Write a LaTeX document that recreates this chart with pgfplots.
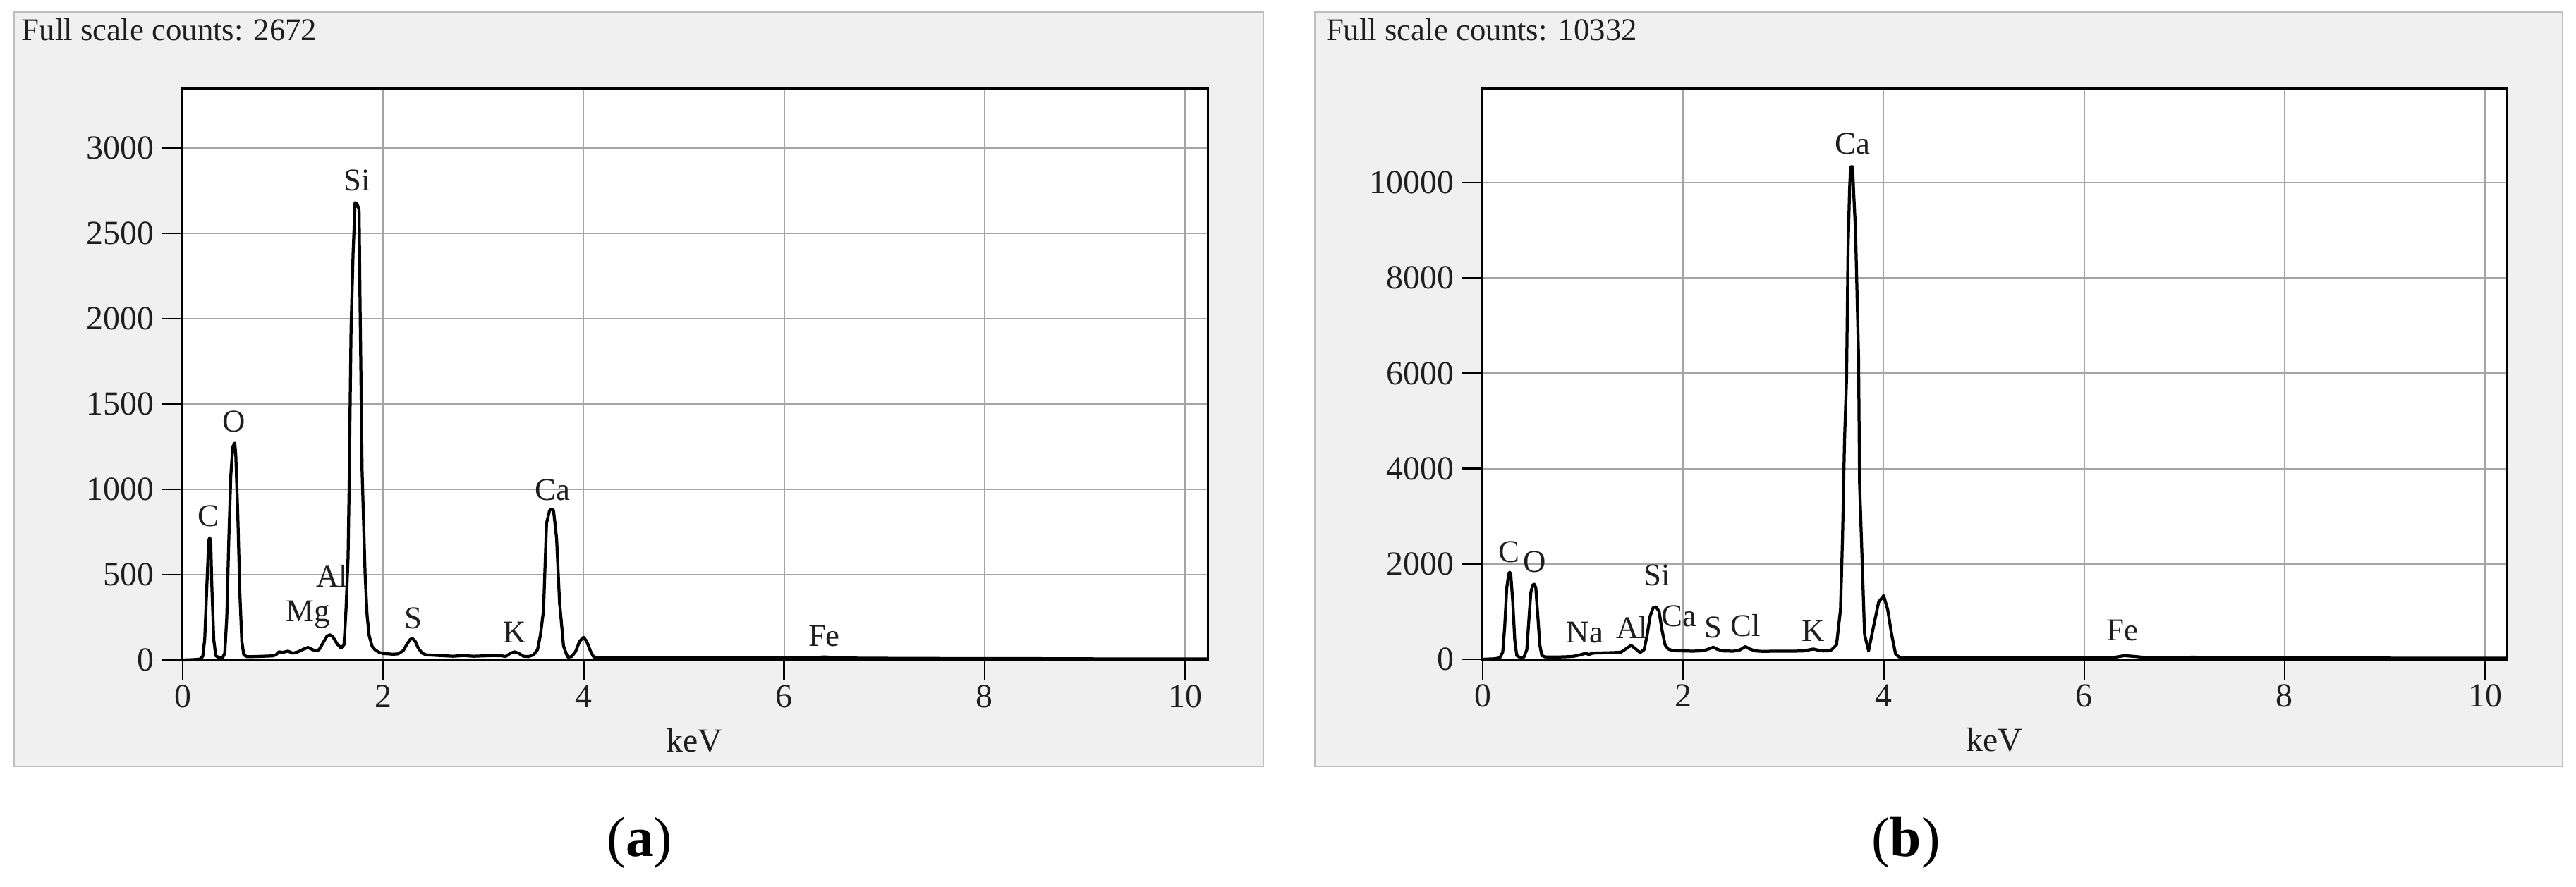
\documentclass[border=0pt]{standalone}
\usepackage{pgfplots}
\pgfplotsset{compat=1.18}
\usepackage{fontspec}
\setmainfont{Liberation Serif}
\definecolor{panelgray}{RGB}{240,240,240}
\definecolor{boxgray}{RGB}{190,190,190}
\definecolor{gridgray}{RGB}{165,165,165}
\definecolor{ink}{RGB}{30,30,30}

\newcommand{\lbl}{\fontsize{9}{10}\selectfont}
\newcommand{\tck}{\fontsize{9.6}{11}\selectfont}

\pgfplotsset{
  eds/.style={
    anchor=south west, scale only axis,
    axis background/.style={fill=white},
    axis line style={black, line width=0.6bp},
    grid=major, major grid style={gridgray, line width=0.4bp},
    tick align=outside, tick pos=left,
    tick style={black, line width=0.45bp},
    major tick length=5.6bp,
    xtick={0,2,4,6,8,10},
    scaled ticks=false,
    ticklabel style={font=\tck, text=ink},
    /pgf/number format/assume math mode=true,
    /pgf/number format/set thousands separator={},
    xticklabel style={inner sep=1.2bp},
    yticklabel style={inner sep=2bp},
    xlabel={keV},
    xlabel style={font=\tck, text=ink, at={(axis description cs:0.5,0)}, anchor=center, yshift=-22.6bp},
    clip=false,
  },
  trace/.style={black, line width=0.85bp, line join=round},
}
\tikzset{pk/.style={font=\lbl, text=ink, inner sep=0pt}}

\begin{document}
\begin{tikzpicture}
\path[use as bounding box] (0,0) rectangle (730.4bp,251.6bp);
\fill[white] (0,0) rectangle (730.4bp,251.6bp);
\filldraw[fill=panelgray, draw=boxgray, line width=0.35bp] (4bp,34.2bp) rectangle (358.2bp,248.2bp);
\filldraw[fill=panelgray, draw=boxgray, line width=0.35bp] (372.8bp,34.2bp) rectangle (726.6bp,248.2bp);
\node[anchor=base west, inner sep=0pt, font=\lbl, text=ink] at (6bp,240bp) {Full scale counts: 2672};
\node[anchor=base west, inner sep=0pt, font=\lbl, text=ink] at (375.8bp,240bp) {Full scale counts: 10332};

% (a)
\begin{axis}[eds, at={(51.4bp,64.2bp)}, width=291bp, height=162.2bp,
  xmin=-0.014, xmax=10.225, ymin=-4, ymax=3347,
  ytick={0,500,1000,1500,2000,2500,3000}]
\addplot[trace] coordinates {
 (0.00,0) (0.10,2) (0.17,5) (0.20,20) (0.22,120) (0.24,420) (0.26,700) (0.27,716)
 (0.28,690) (0.29,450) (0.31,120) (0.33,25) (0.36,15) (0.40,15) (0.42,40) (0.44,250)
 (0.46,700) (0.48,1080) (0.50,1250) (0.52,1271) (0.53,1200) (0.55,850) (0.57,400)
 (0.59,110) (0.61,30) (0.64,20) (0.70,20) (0.80,22) (0.90,24) (0.93,30) (0.96,48)
 (1.00,45) (1.05,52) (1.10,40) (1.15,48) (1.20,62) (1.25,74) (1.28,65) (1.32,55)
 (1.36,60) (1.40,100) (1.44,140) (1.47,148) (1.50,135) (1.54,95) (1.58,70) (1.61,90)
 (1.63,300) (1.65,600) (1.66,980) (1.68,1945) (1.70,2380) (1.72,2680) (1.74,2672)
 (1.76,2640) (1.77,2072) (1.79,1108) (1.82,504) (1.84,260) (1.86,144) (1.89,80)
 (1.92,59) (1.96,45) (2.00,38) (2.05,36) (2.10,34) (2.15,36) (2.20,55) (2.24,95)
 (2.27,120) (2.29,127) (2.32,110) (2.35,70) (2.39,40) (2.43,30) (2.50,28) (2.60,25)
 (2.70,22) (2.80,26) (2.90,22) (3.00,24) (3.10,26) (3.18,25) (3.22,20) (3.27,40)
 (3.31,48) (3.35,40) (3.40,22) (3.45,20) (3.50,30) (3.54,60) (3.57,150) (3.60,292)
 (3.63,801) (3.66,875) (3.68,886) (3.70,875) (3.73,716) (3.76,335) (3.80,80)
 (3.84,17) (3.88,20) (3.92,50) (3.96,110) (4.00,133) (4.03,110) (4.07,50) (4.10,18)
 (4.15,14) (4.5,13) (5.0,12) (5.5,11) (6.0,11) (6.3,14) (6.4,18) (6.5,14) (6.8,10)
 (7.0,10) (7.5,9) (8.0,8) (8.5,8) (9.0,7) (9.5,6) (10.0,6) (10.22,6)
};
\node[pk] at (axis cs:0.26,843) {C};
\node[pk] at (axis cs:0.51,1398) {O};
\node[pk] at (axis cs:1.25,265) {Mg};
\node[pk] at (axis cs:1.49,494) {Al};
\node[pk] at (axis cs:1.74,2810) {Si};
\node[pk] at (axis cs:2.30,246) {S};
\node[pk] at (axis cs:3.31,161) {K};
\node[pk] at (axis cs:3.69,996) {Ca};
\node[pk] at (axis cs:6.40,140) {Fe};
\end{axis}

% (b)
\begin{axis}[eds, at={(420bp,64.4bp)}, width=290.8bp, height=162bp,
  xmin=-0.014, xmax=10.218, ymin=-15, ymax=11967,
  ytick={0,2000,4000,6000,8000,10000}]
\addplot[trace] coordinates {
 (0.00,0) (0.12,10) (0.17,30) (0.20,150) (0.22,700) (0.24,1500) (0.26,1800) (0.27,1823)
 (0.28,1780) (0.30,1200) (0.32,400) (0.34,80) (0.37,40) (0.41,40) (0.44,200) (0.46,800)
 (0.48,1400) (0.50,1560) (0.515,1573) (0.53,1500) (0.55,900) (0.57,300) (0.59,80)
 (0.62,50) (0.70,48) (0.80,50) (0.90,60) (0.95,80) (1.00,110) (1.03,125) (1.06,100)
 (1.10,130) (1.20,135) (1.30,140) (1.38,150) (1.43,220) (1.48,290) (1.52,230)
 (1.57,140) (1.61,200) (1.64,500) (1.67,900) (1.70,1080) (1.73,1098) (1.76,1000)
 (1.79,600) (1.82,300) (1.85,216) (1.90,180) (2.00,175) (2.10,170) (2.20,180)
 (2.26,220) (2.30,253) (2.34,210) (2.40,175) (2.50,170) (2.57,200) (2.62,268)
 (2.66,220) (2.72,175) (2.80,165) (2.90,170) (3.00,168) (3.10,170) (3.20,175)
 (3.26,200) (3.30,216) (3.34,195) (3.40,175) (3.47,180) (3.53,300) (3.57,1045)
 (3.59,2555) (3.61,4593) (3.63,5876) (3.645,8594) (3.66,9840) (3.67,10330)
 (3.69,10332) (3.70,9840) (3.72,8970) (3.75,6330) (3.76,3687) (3.79,1800) (3.81,517)
 (3.85,178) (3.89,593) (3.95,1197) (4.00,1333) (4.04,1045) (4.08,517) (4.12,102)
 (4.16,42) (4.3,40) (4.6,38) (5.0,36) (5.5,34) (6.0,33) (6.3,40) (6.4,75) (6.5,60)
 (6.6,40) (6.8,35) (7.0,38) (7.1,45) (7.2,30) (7.5,28) (8.0,27) (8.5,25) (9.0,24)
 (9.5,22) (10.0,22) (10.21,22)
};
\node[pk] at (axis cs:0.26,2254) {C};
\node[pk] at (axis cs:0.515,2043) {O};
\node[pk] at (axis cs:1.02,555) {Na};
\node[pk] at (axis cs:1.49,668) {Al};
\node[pk] at (axis cs:1.74,1762) {Si};
\node[pk] at (axis cs:1.96,910) {Ca};
\node[pk] at (axis cs:2.30,668) {S};
\node[pk] at (axis cs:2.62,706) {Cl};
\node[pk] at (axis cs:3.30,593) {K};
\node[pk] at (axis cs:3.69,10820) {Ca};
\node[pk] at (axis cs:6.38,606) {Fe};
\end{axis}

\node[font=\fontsize{16}{18}\selectfont] at (181.4bp,12.6bp) {(\textbf{a})};
\node[font=\fontsize{16}{18}\selectfont] at (540.4bp,12.6bp) {(\textbf{b})};
\end{tikzpicture}
\end{document}
